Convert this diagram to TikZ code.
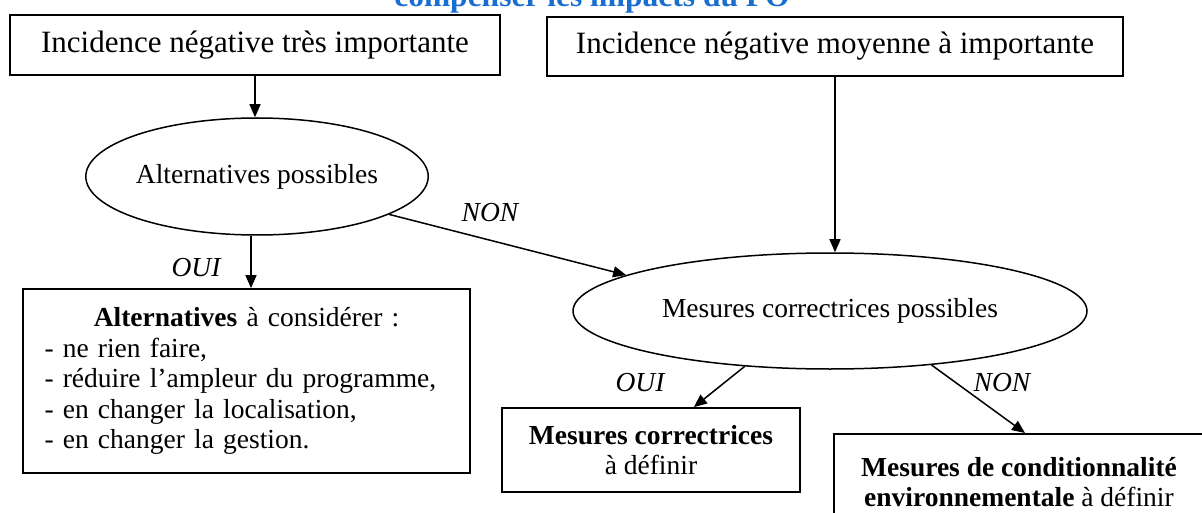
\documentclass[tikz,border=0pt]{standalone}
\usepackage{fontspec}
\setmainfont{Liberation Serif}
\usetikzlibrary{arrows.meta,shapes.geometric,calc}
\definecolor{titleblue}{RGB}{25,110,210}
\begin{document}
\begin{tikzpicture}[x=1pt,y=-1pt,
  every node/.style={font=\fontsize{27.5}{30.5}\selectfont},
  big/.style={font=\fontsize{31}{34}\selectfont},
  boxnode/.style={draw,line width=1.8pt,rectangle,inner sep=0pt,align=center},
  ellnode/.style={draw,line width=1.5pt,ellipse,inner sep=0pt},
  arr/.style={line width=1.5pt,-{Triangle[length=13pt,width=11pt]}},
  lab/.style={font=\fontsize{27.5}{30}\selectfont\itshape}]
\useasboundingbox (0,0) rectangle (1202,513);
\node[font=\fontsize{31.5}{34}\selectfont\bfseries,text=titleblue,anchor=base] (title) at (592,7) {compenser les impacts du PO};
\node[boxnode,big,minimum width=490pt,minimum height=60pt] (box1) at (255,45) {Incidence négative très importante};
\node[boxnode,big,minimum width=576pt,minimum height=59pt] (box2) at (835,46.5) {Incidence négative moyenne à importante};
\node[ellnode,minimum width=326pt,minimum height=117pt] (e1) at (257,176.5) {Alternatives possibles};
\node[ellnode,minimum width=514pt,minimum height=116pt] (e2) at (830,311) {Mesures correctrices possibles};
\node[boxnode,minimum width=447pt,minimum height=184pt,text width=404pt,align=left] (box3) at (246.5,381)
  {\makebox[\linewidth][c]{\textbf{Alternatives} à considérer :}\\
   - ne rien faire,\\
   - réduire l’ampleur du programme,\\
   - en changer la localisation,\\
   - en changer la gestion.};
\node[boxnode,minimum width=298pt,minimum height=84pt] (box4) at (651,450) {\textbf{Mesures correctrices}\\à définir};
\node[draw,line width=1.8pt,rectangle,inner sep=0pt,minimum width=400pt,minimum height=120pt,anchor=north west] (box5) at (833,433) {};
\node[align=center] (t5) at (1019,482) {\textbf{Mesures de conditionnalité}\\\textbf{environnementale} à définir};
\draw[arr] (box1.south) -- (box1.south |- e1.north);
\draw[arr] (box2.south) -- (box2.south |- e2.north);
\draw[arr] (e1.-16) -- (e2.170.3);
\draw[arr] ([xshift=-6pt]e1.south) -- ([xshift=-6pt]e1.south |- box3.north);
\draw[arr] (e2.213) -- ([xshift=-107pt]box4.north east);
\draw[arr] (e2.-28.4) -- ([xshift=192pt]box5.north west);
\node[lab] (non1) at (490,213) {NON};
\node[lab] (oui1) at (196,268) {OUI};
\node[lab] (oui2) at (640,383) {OUI};
\node[lab] (non2) at (1002,383) {NON};
\end{tikzpicture}
\end{document}
